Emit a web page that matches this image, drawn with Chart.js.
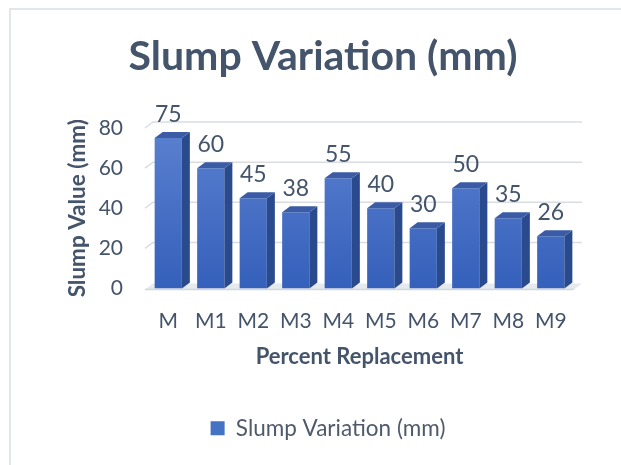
<!DOCTYPE html>
<html>
<head>
<meta charset="utf-8">
<script src="https://cdn.jsdelivr.net/npm/chart.js@4.4.0/dist/chart.umd.min.js"></script>
<style>
  html, body { margin: 0; padding: 0; background: #fff; }
  #frame { position: absolute; left: 9px; top: 8px; width: 640px; height: 480px;
           border: 2px solid #e2e5e9; box-sizing: border-box; }
  #wrap { position: absolute; left: 0; top: 0; width: 621px; height: 465px; }
</style>
</head>
<body>
<div id="frame"></div>
<div id="wrap"><canvas id="chart"></canvas></div>
<script>
// chart values
var mixes = ['M', 'M1', 'M2', 'M3', 'M4', 'M5', 'M6', 'M7', 'M8', 'M9'];
var slump = [75, 60, 45, 38, 55, 40, 30, 50, 35, 26];
var yTicks = [0, 20, 40, 60, 80];

var FONT = 'Lato, "Open Sans", sans-serif';
var DX = 8, DY = 6; // depth of the 3D look

// draws the back walls, floor and the side/top faces of each bar
var fake3d = {
  id: 'fake3d',
  afterLayout: function (chart) {
    // title and legend sit centred on the whole frame, not the plot
    if (chart.titleBlock) { chart.titleBlock.left += 7; chart.titleBlock.right += 7; }
    if (chart.legend) { chart.legend.left += 12; chart.legend.right += 12; }
  },
  beforeDatasetsDraw: function (chart) {
    var ctx = chart.ctx, a = chart.chartArea, y = chart.scales.y;
    ctx.save();
    ctx.strokeStyle = '#d9dde2';
    ctx.lineWidth = 1.5;
    yTicks.forEach(function (t) {
      if (t === 0) return;
      var py = y.getPixelForValue(t);
      ctx.beginPath();
      ctx.moveTo(a.left - 2, py);
      ctx.lineTo(a.left - 2 + DX, py - DY);
      ctx.lineTo(a.right + DX + 2, py - DY);
      ctx.stroke();
    });
    // floor
    var fy = y.getPixelForValue(0);
    ctx.fillStyle = '#e6e9ed';
    ctx.beginPath();
    ctx.moveTo(a.left - 2, fy + 1);
    ctx.lineTo(a.left - 2 + DX, fy - DY + 1);
    ctx.lineTo(a.right + DX + 2, fy - DY + 1);
    ctx.lineTo(a.right + 2, fy + 1);
    ctx.closePath();
    ctx.fill();
    ctx.strokeStyle = '#d4d8de';
    ctx.beginPath();
    ctx.moveTo(a.left - 2, fy + 1);
    ctx.lineTo(a.right + 2, fy + 1);
    ctx.stroke();
    ctx.restore();
  },
  afterDatasetsDraw: function (chart) {
    var ctx = chart.ctx;
    var meta = chart.getDatasetMeta(0);
    ctx.save();
    meta.data.forEach(function (bar, i) {
      var p = bar.getProps(['x', 'y', 'base', 'width'], true);
      var l = p.x - p.width / 2, r = p.x + p.width / 2;
      // side
      ctx.fillStyle = '#2a4a8e';
      ctx.beginPath();
      ctx.moveTo(r, p.y);
      ctx.lineTo(r + DX, p.y - DY);
      ctx.lineTo(r + DX, p.base - DY);
      ctx.lineTo(r, p.base);
      ctx.closePath();
      ctx.fill();
      // top
      ctx.fillStyle = '#3b5ba6';
      ctx.beginPath();
      ctx.moveTo(l, p.y);
      ctx.lineTo(l + DX, p.y - DY);
      ctx.lineTo(r + DX, p.y - DY);
      ctx.lineTo(r, p.y);
      ctx.closePath();
      ctx.fill();
      // value label
      ctx.fillStyle = '#44546a';
      ctx.font = '23px ' + FONT;
      ctx.textAlign = 'center';
      ctx.textBaseline = 'alphabetic';
      ctx.fillText(String(slump[i]), p.x, p.y - 16);
    });
    ctx.restore();
  }
};

function frontFill(context) {
  var chart = context.chart, a = chart.chartArea;
  if (!a) return '#4472c4';
  var g = chart.ctx.createLinearGradient(0, a.top, 0, a.bottom);
  g.addColorStop(0, '#5a80cf');
  g.addColorStop(1, '#3560bb');
  return g;
}

new Chart(document.getElementById('chart'), {
  type: 'bar',
  data: {
    labels: mixes,
    datasets: [{
      label: 'Slump Variation (mm)',
      data: slump,
      backgroundColor: frontFill,
      borderWidth: 0,
      barPercentage: 0.64,
      categoryPercentage: 1
    }]
  },
  options: {
    responsive: true,
    maintainAspectRatio: false,
    animation: false,
    devicePixelRatio: 1,
    layout: { padding: { left: 60, right: 49, top: 22, bottom: 15.5 } },
    plugins: {
      title: {
        display: true,
        text: 'Slump Variation (mm)',
        color: '#44546a',
        font: { family: FONT, size: 41, weight: 'bold' },
        padding: { top: 10, bottom: 46.8 }
      },
      legend: {
        position: 'bottom',
        labels: {
          color: '#4f5b6b',
          font: { family: FONT, size: 22.5 },
          boxWidth: 14,
          boxHeight: 14,
          padding: 10,
          generateLabels: function (chart) {
            return [{ text: 'Slump Variation (mm)', fillStyle: '#4472c4', strokeStyle: '#4472c4', lineWidth: 0, fontColor: '#4f5b6b' }];
          }
        }
      },
      tooltip: { enabled: false }
    },
    scales: {
      x: {
        grid: { display: false, drawTicks: false },
        border: { display: false },
        ticks: { color: '#44546a', font: { family: FONT, size: 21 }, padding: 20 },
        title: {
          display: true,
          text: 'Percent Replacement',
          color: '#44546a',
          font: { family: FONT, size: 22, weight: 'bold' },
          padding: { top: 8, bottom: 37.3 }
        },
        afterFit: function (s) { s.height = 118.5; }
      },
      y: {
        min: 0,
        max: 80,
        grid: { display: false, drawTicks: false },
        border: { display: false },
        afterBuildTicks: function (s) { s.ticks = yTicks.map(function (v) { return { value: v }; }); },
        ticks: { color: '#44546a', font: { family: FONT, size: 21 }, padding: 24 },
        title: {
          display: true,
          text: 'Slump Value (mm)',
          color: '#44546a',
          font: { family: FONT, size: 22.5, weight: 'bold' },
          padding: { top: 4, bottom: 0 }
        },
        afterFit: function (s) { s.width = 87; }
      }
    }
  },
  plugins: [fake3d]
});
</script>
</body>
</html>
